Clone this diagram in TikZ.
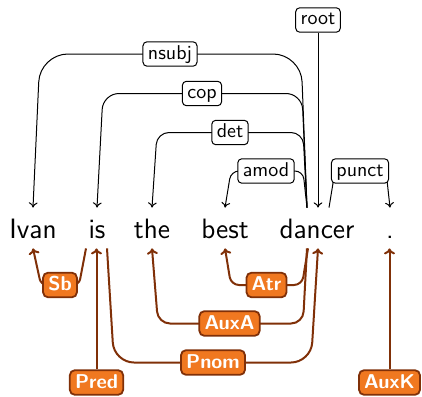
\documentclass[tikz,border=0pt]{standalone}
\usetikzlibrary{arrows.meta}
\definecolor{depbrown}{RGB}{128,48,8}
\definecolor{deporange}{RGB}{240,120,32}
\tikzset{
  x=0.5pt, y=-0.5pt,
  word/.style={anchor=base, font=\sffamily\fontsize{14}{16}\selectfont, text height=10pt, text depth=0pt, inner ysep=5pt, inner xsep=0pt},
  toplabel/.style={draw=black, fill=white, rounded corners=2pt, line width=0.5pt, font=\sffamily\fontsize{10}{12}\selectfont, text height=7pt, text depth=2pt, inner ysep=1.6pt, inner xsep=2.5pt},
  botlabel/.style={draw=depbrown, fill=deporange, text=white, rounded corners=2.5pt, line width=0.9pt, font=\sffamily\bfseries\fontsize{10}{12}\selectfont, text height=7.2pt, text depth=1.5pt, inner ysep=1.8pt, inner xsep=2.6pt},
  topedge/.style={draw=black, line width=0.5pt, -{To[length=2.6pt,width=4.4pt]}},
  botedge/.style={draw=depbrown, line width=1pt, -{To[length=3pt,width=5.5pt]}},
}
\begin{document}
\begin{tikzpicture}
\useasboundingbox (0,0) rectangle (422,396);
% words
\node[word] (w1) at (33,238) {Ivan};
\node[word] (w2) at (97,238) {is};
\node[word] (w3) at (152,238) {the};
\node[word] (w4) at (225,238) {best};
\node[word] (w5) at (317,238) {dancer};
\node[word] (w6) at (390,238) {.};
% top label positions
\coordinate (Lroot) at (318,20);
\coordinate (Lnsubj) at (170,54);
\coordinate (Lcop) at (202,93.5);
\coordinate (Ldet) at (230,132.5);
\coordinate (Lamod) at (266,171);
\coordinate (Lpunct) at (360,171);
% top edges
\draw[topedge, rounded corners=14pt] ([xshift=-5pt]w5.north) -- (301,0 |- Lnsubj) -- (40,0 |- Lnsubj) -- (w1.north);
\draw[topedge, rounded corners=8pt] ([xshift=-5pt]w5.north) -- (302,0 |- Lcop) -- (103,0 |- Lcop) -- (w2.north);
\draw[topedge, rounded corners=6pt] ([xshift=-5pt]w5.north) -- (303,0 |- Ldet) -- (157,0 |- Ldet) -- (w3.north);
\draw[topedge, rounded corners=4pt] ([xshift=-5pt]w5.north) -- (303,0 |- Lamod) -- (231,0 |- Lamod) -- (w4.north);
\draw[topedge, rounded corners=2pt] ([xshift=6pt]w5.north) -- (335,0 |- Lpunct) -- (386,0 |- Lpunct) -- (w6.north);
\node[toplabel] (root) at (Lroot) {root};
\draw[topedge] (root.south) -- (root |- w5.north);
\node[toplabel] (nsubj) at (Lnsubj) {nsubj};
\node[toplabel] (cop) at (Lcop) {cop};
\node[toplabel] (det) at (Ldet) {det};
\node[toplabel] (amod) at (Lamod) {amod};
\node[toplabel] (punct) at (Lpunct) {punct};
% bottom label positions
\coordinate (LSb) at (60,285);
\coordinate (LAtr) at (266.5,285);
\coordinate (LAuxA) at (229.5,323.5);
\coordinate (LPnom) at (213,362.5);
\coordinate (LPred) at (96.5,382.5);
\coordinate (LAuxK) at (389.5,382.5);
% bottom edges
\draw[botedge, rounded corners=3pt] ([xshift=-5.5pt]w2.south) -- (79,0 |- LSb) -- (41,0 |- LSb) -- (w1.south);
\draw[botedge, rounded corners=10pt] ([xshift=5pt]w2.south) -- (114,0 |- LPnom) -- (311,0 |- LPnom) -- ([xshift=0.5pt]w5.south);
\draw[botedge, rounded corners=6pt] ([xshift=-5pt]w5.south) -- (303,0 |- LAuxA) -- (158,0 |- LAuxA) -- (w3.south);
\draw[botedge, rounded corners=4pt] ([xshift=-4.5pt]w5.south) -- (302,0 |- LAtr) -- (231,0 |- LAtr) -- (w4.south);
\node[botlabel] (Sb) at (LSb) {Sb};
\node[botlabel] (Atr) at (LAtr) {Atr};
\node[botlabel] (AuxA) at (LAuxA) {AuxA};
\node[botlabel] (Pnom) at (LPnom) {Pnom};
\node[botlabel] (Pred) at (LPred) {Pred};
\node[botlabel] (AuxK) at (LAuxK) {AuxK};
\draw[botedge] (Pred.north) -- (Pred |- w2.south);
\draw[botedge] (AuxK.north) -- (AuxK |- w6.south);
\end{tikzpicture}
\end{document}
